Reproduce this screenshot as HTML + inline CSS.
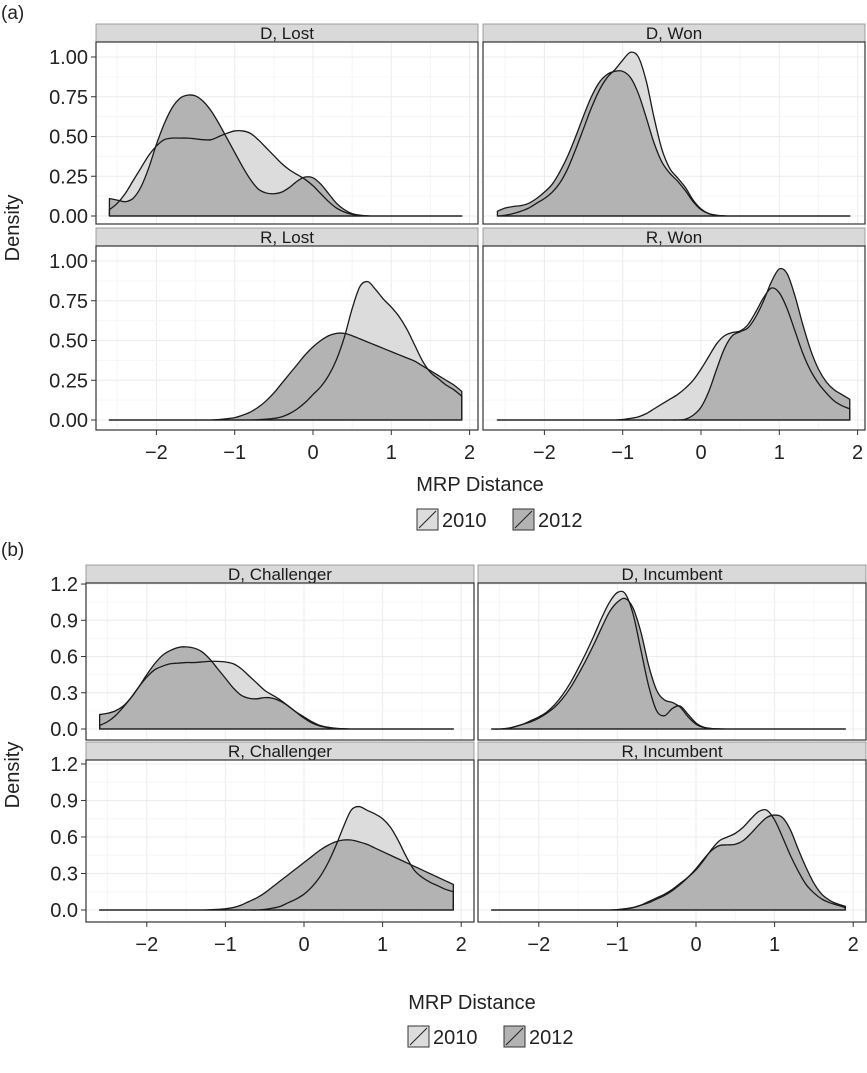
<!DOCTYPE html>
<html><head><meta charset="utf-8">
<style>
html,body{margin:0;padding:0;background:#fff;}
svg{display:block;font-family:"Liberation Sans",Arial,sans-serif;}
</style></head>
<body>
<svg id="fig" width="867" height="1073" viewBox="0 0 867 1073" xmlns="http://www.w3.org/2000/svg"></svg>
<script>
// ---- data: x grid -2.6..1.9 step 0.1 ----
const xStart = -2.6, xStep = 0.1;
const seriesNames = ["2010", "2012"];
const aTicksY = ["0.00","0.25","0.50","0.75","1.00"];
const aTickVals = [0,0.25,0.5,0.75,1.0];
const bTicksY = ["0.0","0.3","0.6","0.9","1.2"];
const bTickVals = [0,0.3,0.6,0.9,1.2];
const xTickVals = [-2,-1,0,1,2];
const xTickLabels = ["\u22122","\u22121","0","1","2"];
const facetTitlesA = ["D, Lost","D, Won","R, Lost","R, Won"];
const facetTitlesB = ["D, Challenger","D, Incumbent","R, Challenger","R, Incumbent"];

const dLost2010 = [.04,.08,.14,.22,.30,.38,.44,.48,.49,.49,.49,.485,.48,.48,.50,.52,.535,.535,.52,.48,.43,.38,.33,.29,.26,.23,.19,.14,.09,.05,.025,.01,.004,.001,0,0,0,0,0,0,0,0,0,0,0,0];
const dLost2012 = [.11,.10,.09,.11,.18,.30,.45,.58,.68,.74,.76,.755,.72,.66,.58,.49,.40,.31,.23,.17,.145,.14,.15,.18,.22,.245,.24,.20,.14,.08,.04,.015,.005,.001,0,0,0,0,0,0,0,0,0,0,0,0];
const dWon2010 = [0,.005,.015,.03,.05,.08,.11,.15,.21,.30,.42,.55,.68,.79,.87,.92,.98,1.03,1.0,.85,.62,.42,.30,.24,.18,.10,.045,.015,.004,.001,0,0,0,0,0,0,0,0,0,0,0,0,0,0,0,0];
const dWon2012 = [.03,.05,.06,.065,.08,.11,.15,.20,.28,.38,.50,.63,.75,.84,.89,.91,.91,.87,.77,.62,.46,.34,.27,.22,.16,.09,.04,.015,.005,.001,0,0,0,0,0,0,0,0,0,0,0,0,0,0,0,0];
const rLost2010 = [0,0,0,0,0,0,0,0,0,0,0,0,0,0,0,0,0,0,0,.002,.005,.01,.02,.04,.07,.11,.16,.21,.28,.38,.52,.70,.84,.87,.82,.76,.71,.65,.57,.47,.37,.30,.26,.22,.19,.15];
const rLost2012 = [0,0,0,0,0,0,0,0,0,0,0,0,0,0,.003,.008,.015,.03,.05,.08,.12,.17,.23,.29,.35,.41,.46,.50,.53,.545,.545,.53,.51,.49,.47,.45,.43,.41,.39,.37,.34,.31,.28,.25,.22,.18];
const rWon2010 = [0,0,0,0,0,0,0,0,0,0,0,0,0,0,0,0,.003,.01,.02,.04,.07,.10,.13,.16,.20,.25,.32,.40,.48,.53,.55,.56,.60,.68,.77,.83,.80,.70,.56,.42,.31,.23,.17,.12,.09,.07];
const rWon2012 = [0,0,0,0,0,0,0,0,0,0,0,0,0,0,0,0,0,0,0,0,0,0,0,0,.005,.03,.08,.18,.32,.45,.53,.555,.58,.65,.75,.87,.95,.92,.78,.60,.44,.32,.24,.19,.16,.13];

const dChal2010 = [.03,.06,.11,.18,.26,.35,.43,.49,.52,.54,.545,.55,.55,.555,.56,.56,.555,.54,.50,.44,.38,.32,.28,.24,.19,.14,.10,.06,.03,.015,.006,.002,0,0,0,0,0,0,0,0,0,0,0,0,0,0];
const dChal2012 = [.12,.13,.15,.19,.26,.35,.45,.54,.61,.65,.675,.68,.67,.64,.58,.50,.42,.34,.28,.255,.25,.26,.255,.23,.19,.14,.09,.05,.025,.012,.005,.002,0,0,0,0,0,0,0,0,0,0,0,0,0,0];
const dInc2010 = [0,0,.005,.02,.04,.07,.10,.14,.20,.28,.38,.50,.63,.77,.92,1.05,1.13,1.12,.95,.65,.35,.15,.11,.17,.19,.12,.05,.015,.004,.001,0,0,0,0,0,0,0,0,0,0,0,0,0,0,0,0];
const dInc2012 = [0,0,.005,.02,.04,.06,.09,.13,.18,.25,.34,.45,.57,.70,.84,.97,1.05,1.08,1.0,.80,.52,.32,.24,.22,.18,.10,.04,.012,.003,.001,0,0,0,0,0,0,0,0,0,0,0,0,0,0,0,0];
const rChal2010 = [0,0,0,0,0,0,0,0,0,0,0,0,0,0,0,0,0,0,0,0,0,.005,.015,.03,.06,.09,.13,.19,.27,.38,.52,.68,.82,.85,.82,.79,.75,.68,.57,.44,.33,.27,.23,.20,.17,.15];
const rChal2012 = [0,0,0,0,0,0,0,0,0,0,0,0,0,0,.002,.005,.01,.02,.04,.07,.10,.14,.19,.24,.29,.34,.39,.44,.49,.53,.56,.575,.575,.56,.54,.51,.48,.45,.42,.39,.36,.33,.30,.27,.24,.21];
const rInc2010 = [0,0,0,0,0,0,0,0,0,0,0,0,0,0,0,0,.003,.01,.02,.04,.07,.10,.13,.17,.22,.27,.33,.41,.50,.57,.60,.63,.68,.75,.81,.82,.74,.60,.45,.32,.21,.14,.09,.06,.04,.02];
const rInc2012 = [0,0,0,0,0,0,0,0,0,0,0,0,0,0,0,0,.003,.01,.02,.04,.06,.09,.12,.16,.21,.27,.34,.42,.49,.53,.535,.54,.57,.63,.70,.76,.78,.76,.66,.50,.35,.22,.13,.08,.05,.03];

const NS="http://www.w3.org/2000/svg";
const svg=document.getElementById('fig');
function mk(tag,attrs,parent){const e=document.createElementNS(NS,tag);for(const k in attrs)e.setAttribute(k,attrs[k]);(parent||svg).appendChild(e);return e;}
function txt(s,attrs,parent){const t=mk('text',attrs,parent);t.textContent=s;return t;}
const FILL={"2010":"#dcdcdc","2012":"#b3b3b3"};

function smoothPath(pts){
  let d="M"+pts[0][0].toFixed(2)+","+pts[0][1].toFixed(2);
  for(let i=0;i<pts.length-1;i++){
    const p0=pts[Math.max(0,i-1)],p1=pts[i],p2=pts[i+1],p3=pts[Math.min(pts.length-1,i+2)];
    const c1x=p1[0]+(p2[0]-p0[0])/6,c1y=p1[1]+(p2[1]-p0[1])/6;
    const c2x=p2[0]-(p3[0]-p1[0])/6,c2y=p2[1]-(p3[1]-p1[1])/6;
    d+=" C"+c1x.toFixed(2)+","+c1y.toFixed(2)+" "+c2x.toFixed(2)+","+c2y.toFixed(2)+" "+p2[0].toFixed(2)+","+p2[1].toFixed(2);
  }
  return d;
}

function panel(o){
  const g=mk('g',{});
  
  
  const strip=mk('rect',{x:o.x0,y:o.sy0,width:o.x1-o.x0,height:o.sy1-o.sy0,fill:'#d9d9d9',stroke:'#8c8c8c','stroke-width':0.8},g);
  
  
  const st=txt(o.title,{x:(o.x0+o.x1)/2,y:o.sy1-3,'text-anchor':'middle','font-size':17,fill:'#1a1a1a'},g);
  
  
  mk('rect',{x:o.x0,y:o.sy1,width:o.x1-o.x0,height:o.py1-o.sy1,fill:'#fff'},g);
  const X=v=>o.xZero+o.xUnit*v, Y=v=>o.yZero-o.yUnit*v;
  for(let v=-2.5;v<=2.01;v+=0.5){const gx=X(v);if(gx>o.x0&&gx<o.x1)mk('line',{x1:gx,x2:gx,y1:o.sy1,y2:o.py1,stroke:Number.isInteger(v)?'#ececec':'#f6f6f6','stroke-width':1},g);}
  const step=o.tickVals[1]-o.tickVals[0];
  for(let i=0;i<o.tickVals.length;i++){
    mk('line',{x1:o.x0,x2:o.x1,y1:Y(o.tickVals[i]),y2:Y(o.tickVals[i]),stroke:'#ececec'},g);
    const m=Y(o.tickVals[i]+step/2); if(m>o.sy1) mk('line',{x1:o.x0,x2:o.x1,y1:m,y2:m,stroke:'#f6f6f6'},g);
  }
  const paths=[];
  o.series.forEach((arr,si)=>{
    const pts=arr.map((v,i)=>[X(xStart+i*xStep),Y(v)]);
    const d=smoothPath(pts);
    const last=pts[pts.length-1],first=pts[0];
    const a=mk('path',{d:d+" L"+last[0]+","+Y(0)+" L"+first[0]+","+Y(0)+" Z",fill:FILL[seriesNames[si]],stroke:'none'},g);
    
    
    paths.push([d,first,last]);
  });
  paths.forEach((p,si)=>{
    const l=mk('path',{d:"M"+p[1][0]+","+Y(0)+" L"+p[1][0]+","+p[1][1]+" "+p[0].slice(1)+" L"+p[2][0]+","+Y(0)+" Z",fill:'none',stroke:'#1a1a1a','stroke-width':1.3,'stroke-linejoin':'round'},g);
    
    
  });
  mk('rect',{x:o.x0,y:o.sy1,width:o.x1-o.x0,height:o.py1-o.sy1,fill:'none',stroke:'#333','stroke-width':1.2},g);
  if(o.showY){
    for(let i=0;i<o.tickVals.length;i++){
      const y=Y(o.tickVals[i]);
      mk('line',{x1:o.x0-5,x2:o.x0,y1:y,y2:y,stroke:'#333'},g);
      const t=txt(o.tickLabels[i],{x:o.x0-8,y:y+7,'text-anchor':'end','font-size':20,fill:'#222'},g);
      
      
    }
  }
  if(o.showX){
    for(let i=0;i<xTickVals.length;i++){
      const x=X(xTickVals[i]);
      mk('line',{x1:x,x2:x,y1:o.py1,y2:o.py1+5,stroke:'#333'},g);
      const t=txt(xTickLabels[i],{x:x,y:o.py1+29,'text-anchor':'middle','font-size':20,fill:'#222'},g);
      
      
    }
  }
}

function legend(cx,y,prefix){
  const items=[[cx-53,"2010"],[cx+43,"2012"]];
  items.forEach(([x,name])=>{
    const r=mk('rect',{x:x,y:y,width:21,height:21,fill:FILL[name],stroke:'#333','stroke-width':1});
    
    
    mk('line',{x1:x+2,y1:y+19,x2:x+19,y2:y+2,stroke:'#222','stroke-width':1});
    const t=txt(name,{x:x+25,y:y+18,'font-size':20,fill:'#222'});
    
    
  });
}

let t=txt("(a)",{x:1,y:19,'font-size':19,fill:'#222'});

const aSeries=[[dLost2010,dLost2012],[dWon2010,dWon2012],[rLost2010,rLost2012],[rWon2010,rWon2012]];
const aCols=[[96,478,313],[483,865,701]];
const aRows=[[24,42,224,216],[228,246,430,420]];
for(let r=0;r<2;r++)for(let c=0;c<2;c++){
  panel({x0:aCols[c][0],x1:aCols[c][1],sy0:aRows[r][0],sy1:aRows[r][1],py1:aRows[r][2],xZero:aCols[c][2],xUnit:78.3,yZero:aRows[r][3],yUnit:159,
    title:facetTitlesA[r*2+c],series:aSeries[r*2+c],tickVals:aTickVals,tickLabels:aTicksY,showY:c===0,showX:r===1,name:'panel-a-'+facetTitlesA[r*2+c].toLowerCase().replace(/[^a-z]+/g,'-')});
}
t=txt("Density",{x:0,y:0,transform:'translate(19,228) rotate(-90)','text-anchor':'middle','font-size':20,fill:'#222'});

t=txt("MRP Distance",{x:480,y:491,'text-anchor':'middle','font-size':20,fill:'#222'});

legend(470,509,'a');

t=txt("(b)",{x:1,y:556,'font-size':19,fill:'#222'});

const bSeries=[[dChal2010,dChal2012],[dInc2010,dInc2012],[rChal2010,rChal2012],[rInc2010,rInc2012]];
const bCols=[[86,474,304],[478,866,696]];
const bRows=[[565,583,740,729,120.8],[742,760,922,910,121.7]];
for(let r=0;r<2;r++)for(let c=0;c<2;c++){
  panel({x0:bCols[c][0],x1:bCols[c][1],sy0:bRows[r][0],sy1:bRows[r][1],py1:bRows[r][2],xZero:bCols[c][2],xUnit:78.6,yZero:bRows[r][3],yUnit:bRows[r][4],
    title:facetTitlesB[r*2+c],series:bSeries[r*2+c],tickVals:bTickVals,tickLabels:bTicksY,showY:c===0,showX:r===1,name:'panel-b-'+facetTitlesB[r*2+c].toLowerCase().replace(/[^a-z]+/g,'-')});
}
t=txt("Density",{x:0,y:0,transform:'translate(19,775) rotate(-90)','text-anchor':'middle','font-size':20,fill:'#222'});

t=txt("MRP Distance",{x:472,y:1009,'text-anchor':'middle','font-size':20,fill:'#222'});

legend(461,1026,'b');
</script>
</body></html>
